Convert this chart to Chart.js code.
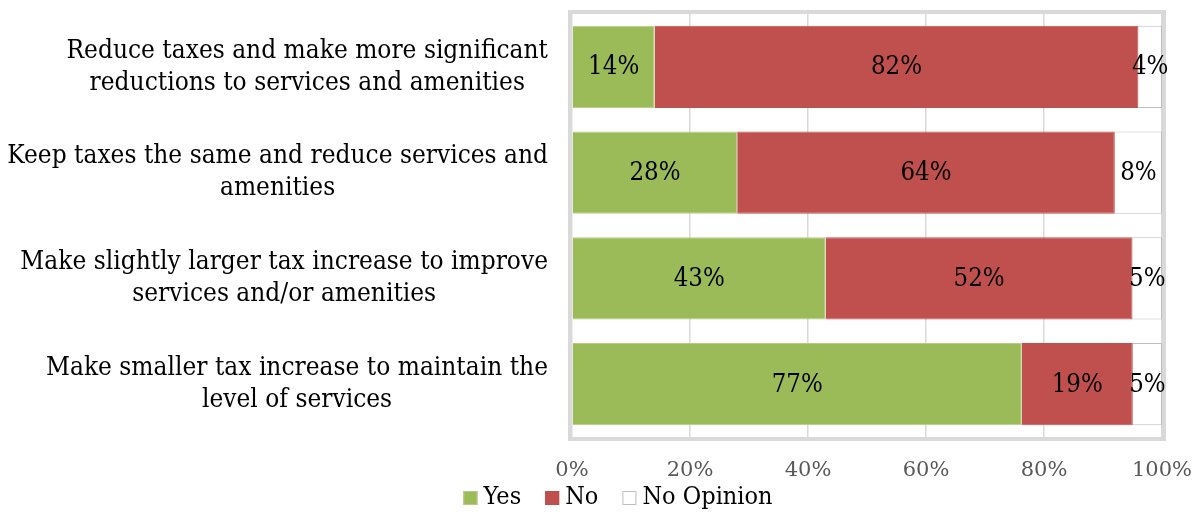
<!DOCTYPE html>
<html>
<head>
<meta charset="utf-8">
<script src="https://cdn.jsdelivr.net/npm/chart.js@4.4.1/dist/chart.umd.min.js"></script>
<style>
  html, body { margin: 0; padding: 0; background: #fff; }
  #wrap { width: 1199px; height: 512px; }
</style>
</head>
<body>
<div id="wrap"><canvas id="chart" width="1199" height="512"></canvas></div>
<script>
// Chart data
const categories = [
  ["Reduce taxes and make more significant", "reductions to services and amenities"],
  ["Keep taxes the same and reduce services and", "amenities"],
  ["Make slightly larger tax increase to improve", "services and/or amenities"],
  ["Make smaller tax increase to maintain the", "level of services"]
];
const yesValues = [14, 28, 43, 77];
const noValues = [82, 64, 52, 19];
const noOpinionValues = [4, 8, 5, 5];
const xTicks = [0, 20, 40, 60, 80, 100];

const FONT = "'DejaVu Serif', 'Liberation Serif', serif";

// 100% stacked: each row is scaled to its own total
const totals = yesValues.map((v, i) => v + noValues[i] + noOpinionValues[i]);
const share = arr => arr.map((v, i) => v / totals[i] * 100);

const series = [
  { label: 'Yes', raw: yesValues, bg: '#9BBB59', border: '#b5cc85' },
  { label: 'No', raw: noValues, bg: '#C0504D', border: '#C0504D' },
  { label: 'No Opinion', raw: noOpinionValues, bg: '#FFFFFF', border: '#BFBFBF' }
];

// DejaVu is shorter than the original font, so stretch drawn text a little
function tallText(ctx, text, x, y, sy) {
  ctx.save();
  ctx.translate(x, y);
  ctx.scale(1, sy);
  ctx.fillText(text, 0, 0);
  ctx.restore();
}

// draw the thick grey frame round the plot area
const frame = {
  id: 'frame',
  beforeDatasetsDraw(chart) {
    const a = chart.chartArea, ctx = chart.ctx;
    ctx.save();
    ctx.strokeStyle = '#D9D9D9';
    ctx.lineWidth = 4;
    ctx.strokeRect(a.left - 2, a.top - 2, a.right - a.left + 4, a.bottom - a.top + 4);
    ctx.restore();
  }
};

// category labels: each one centred on its own widest line, right edge fixed
const catLabels = {
  id: 'catLabels',
  afterDraw(chart) {
    const ctx = chart.ctx, y = chart.scales.y;
    ctx.save();
    ctx.font = '23.4px ' + FONT;
    ctx.fillStyle = '#000';
    ctx.textAlign = 'center';
    ctx.textBaseline = 'middle';
    const lh = 32, rightEdge = y.right - 24;
    categories.forEach((lines, i) => {
      const cy = y.getPixelForValue(i);
      const widest = Math.max(...lines.map(l => ctx.measureText(l).width));
      const cx = rightEdge - widest / 2;
      lines.forEach((l, j) => {
        tallText(ctx, l, cx, cy + (j - (lines.length - 1) / 2) * lh, 1.13);
      });
    });
    ctx.restore();
  }
};

// value labels in the middle of each segment
const valueLabels = {
  id: 'valueLabels',
  afterDatasetsDraw(chart) {
    const ctx = chart.ctx;
    ctx.save();
    ctx.font = '23px ' + FONT;
    ctx.fillStyle = '#000';
    ctx.textAlign = 'center';
    ctx.textBaseline = 'middle';
    chart.data.datasets.forEach((ds, di) => {
      chart.getDatasetMeta(di).data.forEach((bar, i) => {
        const mid = (bar.x + bar.base) / 2;
        tallText(ctx, series[di].raw[i] + '%', mid, bar.y + 1, 1.1);
      });
    });
    ctx.restore();
  }
};

// legend row under the axis, centred a bit right of the canvas middle
const legendRow = {
  id: 'legendRow',
  afterDraw(chart) {
    const ctx = chart.ctx;
    ctx.save();
    ctx.font = '22.5px ' + FONT;
    ctx.textBaseline = 'middle';
    const box = 14, gapText = 6, gapItem = 24, cy = 498;
    const widths = series.map(s => box + gapText + ctx.measureText(s.label).width);
    const total = widths.reduce((a, b) => a + b, 0) + gapItem * (series.length - 1);
    let x = 618 - total / 2;
    series.forEach((s, i) => {
      ctx.fillStyle = s.bg;
      ctx.fillRect(x, cy - box / 2, box, box);
      ctx.strokeStyle = s.border;
      ctx.lineWidth = 1;
      ctx.strokeRect(x + 0.5, cy - box / 2 + 0.5, box - 1, box - 1);
      ctx.fillStyle = '#000';
      tallText(ctx, s.label, x + box + gapText, cy, 1.1);
      x += widths[i] + gapItem;
    });
    ctx.restore();
  }
};

new Chart(document.getElementById('chart'), {
  type: 'bar',
  data: {
    labels: categories,
    datasets: series.map(s => ({
      label: s.label,
      data: share(s.raw),
      backgroundColor: s.bg,
      borderColor: s.border,
      borderWidth: 1,
      barPercentage: 0.78,
      categoryPercentage: 1
    }))
  },
  options: {
    indexAxis: 'y',
    responsive: false,
    animation: false,
    layout: { padding: { top: 14, right: 37, left: 0, bottom: 0 } },
    scales: {
      x: {
        stacked: true,
        min: 0,
        max: 100,
        afterBuildTicks(scale) { scale.ticks = xTicks.map(v => ({ value: v })); },
        afterFit(scale) {
          scale.height = 75;
          scale.paddingLeft = 0;
          scale.paddingRight = 0;
        },
        grid: { color: '#D9D9D9', lineWidth: 1.5, drawTicks: false },
        border: { display: false },
        ticks: {
          padding: 21,
          color: '#595959',
          font: { family: FONT, size: 21 },
          callback: v => v + '%'
        }
      },
      y: {
        stacked: true,
        afterFit(scale) { scale.width = 572; },
        grid: { display: false, drawTicks: false },
        border: { display: false },
        ticks: { display: false }
      }
    },
    plugins: {
      legend: { display: false },
      tooltip: { enabled: false }
    }
  },
  plugins: [frame, valueLabels, catLabels, legendRow]
});
</script>
</body>
</html>
